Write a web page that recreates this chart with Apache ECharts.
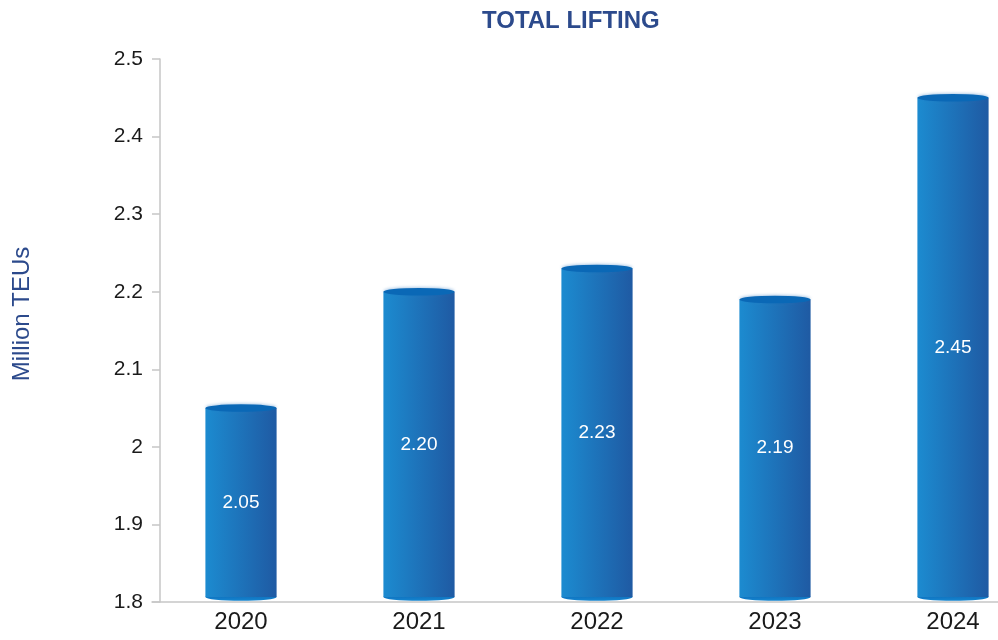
<!DOCTYPE html>
<html>
<head>
<meta charset="utf-8">
<title>Total Lifting</title>
<script src="https://cdn.jsdelivr.net/npm/echarts@6/dist/echarts.min.js"></script>
<style>
  html, body { margin: 0; padding: 0; background: #ffffff; }
  #chart { width: 998px; height: 640px; }
</style>
</head>
<body>
<div id="chart"></div>
<script>
// Annual container lifting, million TEUs
const years = ['2020', '2021', '2022', '2023', '2024'];
const lifting = [2.05, 2.20, 2.23, 2.19, 2.45];

// Value axis range
const yMin = 1.8;
const yMax = 2.5;
const yStep = 0.1;

const FONT = '"Liberation Sans", Arial, Helvetica, sans-serif';
const NAVY = '#2c4a8c';

const chart = echarts.init(document.getElementById('chart'), null, { renderer: 'canvas' });

// Cylinder: gradient body, darker elliptical cap on top and a rounded base
function renderCylinder(params, api) {
  const idx = api.value(0);
  const val = api.value(1);
  const top = api.coord([idx, val]);
  const base = api.coord([idx, yMin]);
  const w = api.size([1, 0])[0] * 0.4;
  const cx = top[0];
  const rx = w / 2;
  const capRy = 3.8;
  const baseY = base[1] - 5;

  const bodyFill = new echarts.graphic.LinearGradient(0, 0, 1, 0, [
    { offset: 0, color: '#1c8bd0' },
    { offset: 1, color: '#1f5aa3' }
  ]);
  const baseFill = new echarts.graphic.LinearGradient(0, 0, 0, 1, [
    { offset: 0, color: '#0b66b5' },
    { offset: 1, color: '#1585cf' }
  ]);

  return {
    type: 'group',
    children: [
      {
        type: 'circle',
        x: cx, y: baseY, scaleY: capRy / rx,
        shape: { cx: 0, cy: 0, r: rx },
        style: { fill: baseFill }
      },
      {
        type: 'rect',
        shape: { x: cx - rx, y: top[1], width: w, height: baseY - top[1] },
        style: { fill: bodyFill }
      },
      {
        type: 'circle',
        x: cx, y: top[1], scaleY: capRy / rx,
        shape: { cx: 0, cy: 0, r: rx },
        style: { fill: '#0a68b6', shadowBlur: 3, shadowColor: 'rgba(30,110,190,0.35)', shadowOffsetY: -1 }
      },
      {
        type: 'text',
        x: cx,
        y: (top[1] + baseY) / 2,
        style: {
          text: val.toFixed(2),
          fill: '#ffffff',
          font: '19px ' + FONT,
          align: 'center',
          verticalAlign: 'middle'
        }
      }
    ]
  };
}

chart.setOption({
  animation: false,
  backgroundColor: '#ffffff',
  title: {
    text: 'TOTAL LIFTING',
    left: 477,
    top: 4,
    textStyle: { color: NAVY, fontFamily: FONT, fontSize: 24, fontWeight: 'bold' }
  },
  graphic: [
    {
      type: 'text',
      x: 22,
      y: 314,
      rotation: Math.PI / 2,
      style: {
        text: 'Million TEUs',
        fill: NAVY,
        font: '24px ' + FONT,
        align: 'center',
        verticalAlign: 'middle'
      }
    }
  ],
  // category band continues past the right edge of the canvas
  grid: { left: 152, top: 59, bottom: 38, width: 890, containLabel: false, outerBoundsMode: 'none' },
  xAxis: {
    type: 'category',
    data: years,
    axisLine: { lineStyle: { color: '#c6c6c6', width: 1.5 } },
    axisTick: { show: false },
    axisLabel: { color: '#1a1a1a', fontFamily: FONT, fontSize: 24, margin: 8 }
  },
  yAxis: {
    type: 'value',
    min: yMin,
    max: yMax,
    interval: yStep,
    offset: -8,
    splitLine: { show: false },
    axisLine: { show: true, lineStyle: { color: '#c6c6c6', width: 1.5 } },
    axisTick: { show: true, length: 8, lineStyle: { color: '#c6c6c6', width: 1.5 } },
    axisLabel: {
      color: '#1a1a1a', fontFamily: FONT, fontSize: 21, margin: 17,
      formatter: v => String(parseFloat(v.toFixed(1)))
    }
  },
  series: [
    {
      type: 'custom',
      renderItem: renderCylinder,
      encode: { x: 0, y: 1 },
      data: years.map((y, i) => [i, lifting[i]]),
      clip: false
    }
  ]
});
</script>
</body>
</html>
